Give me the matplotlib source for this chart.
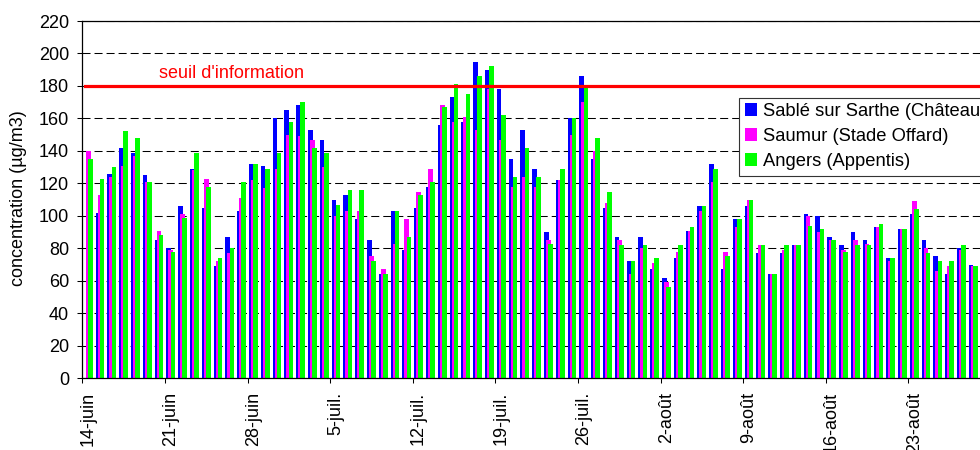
import numpy as np
import matplotlib
matplotlib.use("Agg")
import matplotlib.pyplot as plt

plt.rcParams["font.family"] = ["Liberation Sans", "DejaVu Sans"]

# daily values from 14-juin (day 0) onwards, µg/m3
sable = [np.nan, 102, 126, 142, 139, 125, 85, 80, 106, 129, 105, 69, 87, 103,
         132, 131, 160, 165, 168, 153, 147, 110, 113, 98, 85, 64, 103, 79,
         105, 118, 156, 173, 158, 195, 190, 178, 135, 153, 129, 90, 122, 160,
         186, 135, 105, 87, 72, 87, 67, 62, 74, 91, 106, 132, 67, 98, 106,
         77, 64, 77, 82, 101, 100, 87, 82, 90, 85, 93, 74, 92, 101, 85, 75,
         64, 80, 70, 72]
saumur = [140, 113, 124, 131, 137, 121, 91, 79, 101, 128, 123, 72, 77, 111,
          122, 117, 129, 150, 149, 147, 130, 100, 103, 103, 75, 67, 83, 98,
          115, 129, 168, 158, 161, 153, 178, 147, 118, 124, 118, 85, 122, 150,
          170, 140, 108, 85, 64, 80, 71, 59, 78, 91, 103, 121, 78, 93, 110,
          82, 64, 79, 82, 100, 90, 85, 79, 85, 83, 93, 72, 92, 109, 80, 66,
          69, 79, 69, 70]
angers = [135, 123, 130, 152, 148, 121, 88, 78, 99, 139, 118, 74, 80, 121,
          132, 129, 139, 158, 170, 142, 139, 107, 116, 116, 72, 64, 103, 87,
          113, 121, 167, 181, 175, 186, 192, 162, 124, 142, 124, 83, 129, 160,
          180, 148, 115, 82, 72, 82, 74, 56, 82, 93, 106, 129, 75, 98, 110,
          82, 64, 82, 82, 94, 92, 85, 78, 82, 82, 95, 74, 92, 104, 77, 72,
          72, 82, 69, 70]

series_names = ["Sablé sur Sarthe (Château)", "Saumur (Stade Offard)",
                "Angers (Appentis)"]
series_colors = ["#0000FF", "#FF00FF", "#00FF00"]

week_labels = ["14-juin", "21-juin", "28-juin", "5-juil.", "12-juil.",
               "19-juil.", "26-juil.", "2-août", "9-août", "16-août", "23-août"]

seuil = 180

W, H = 980, 450
px_day = 11.8
n_days = 79

fig = plt.figure(figsize=(W / 100, H / 100), dpi=100)
ax = fig.add_axes([82.3 / W, 1 - 378.3 / H, n_days * px_day / W, (378.3 - 21) / H])

days = np.arange(len(sable))
bar_w = 0.40
step = 0.18
left = 0.12
for k, (vals, name, col) in enumerate(zip([sable, saumur, angers], series_names, series_colors)):
    ax.bar(days + left + k * step, vals, width=bar_w, align="edge",
           color=col, linewidth=0, label=name, zorder=2 + k * 0.1)

ax.axhline(seuil, xmin=0.003, color="#FF0000", lw=2.3, zorder=4)
ax.text(6.5, 185, "seuil d'information", color="#FF0000", fontsize=13,
        ha="left", va="baseline", zorder=4)

ax.set_xlim(0, n_days)
ax.set_ylim(0, 220)
ax.set_yticks(np.arange(0, 221, 20))

week_pos = np.arange(len(week_labels)) * 7
ax.set_xticks(week_pos, labels=[""] * len(week_pos))
ax.set_xticks(week_pos + 0.5, labels=week_labels, minor=True, rotation=90)

ax.tick_params(axis="both", which="major", direction="out", length=3.6,
               width=0.75, labelsize=13, color="black")
ax.tick_params(axis="y", pad=6)
ax.tick_params(axis="x", which="minor", length=0, pad=10, labelsize=13)

ax.yaxis.grid(True, linestyle=(0, (7.7, 3.85)), color="black", lw=0.75)
ax.set_axisbelow(True)

for side in ["left", "bottom", "top"]:
    ax.spines[side].set_linewidth(0.9)
    ax.spines[side].set_color("black")
ax.spines["right"].set_visible(False)

fig.text(18.5 / W, 1 - 198 / H, "concentration (µg/m3)", rotation=90,
         ha="center", va="center", fontsize=13)

leg = ax.legend(loc="upper left", bbox_to_anchor=(739.3 / W, 1 - 97.7 / H),
                bbox_transform=fig.transFigure, fontsize=13.2, frameon=True,
                fancybox=False, borderaxespad=0, borderpad=0.3,
                labelspacing=0.44, handlelength=0.67, handleheight=0.72,
                handletextpad=0.33)
leg.get_frame().set_edgecolor("#333333")
leg.get_frame().set_linewidth(0.8)
leg.get_frame().set_alpha(1)

fig.savefig("out.png", dpi=100)
